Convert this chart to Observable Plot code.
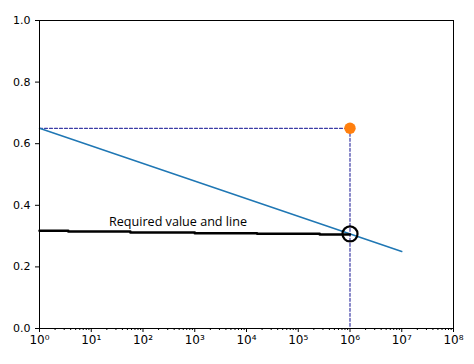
<!DOCTYPE html>
<html>
<head>
<meta charset="utf-8">
<script src="https://cdn.jsdelivr.net/npm/d3@7"></script>
<script src="https://cdn.jsdelivr.net/npm/@observablehq/plot@0.6"></script>
<style>
  html, body { margin: 0; padding: 0; background: #fff; }
  #chart svg { display: block; }
</style>
</head>
<body>
<div id="chart"></div>
<script>
// Blue fitted line
const lineX = [1, 1e7];
const lineY = [0.65, 0.25];
// Orange point
const pointX = [1e6];
const pointY = [0.65];
// Hand-drawn "required value" line (black)
const reqX = [1, 3.6, 57, 1000, 16000, 260000, 1e6];
const reqY = [0.317, 0.315, 0.312, 0.309, 0.308, 0.305, 0.305];
// Circle marker
const circX = [1e6];
const circY = [0.307];
// Annotation
const noteText = ["Required value and line"];
const noteX = [22];
const noteY = [0.345];
// Axis ticks
const xTicks = [1, 10, 100, 1e3, 1e4, 1e5, 1e6, 1e7, 1e8];
const xTickLabels = ["10⁰", "10¹", "10²", "10³", "10⁴", "10⁵", "10⁶", "10⁷", "10⁸"];
const yTicks = [0, 0.2, 0.4, 0.6, 0.8, 1.0];
const yTickLabels = ["0.0", "0.2", "0.4", "0.6", "0.8", "1.0"];

const minorTicks = [];
for (let k = 0; k < 8; k++) for (let m = 2; m <= 9; m++) minorTicks.push(m * Math.pow(10, k));

const line = lineX.map((x, i) => ({x, y: lineY[i]}));
const pts = pointX.map((x, i) => ({x, y: pointY[i]}));
const req = reqX.map((x, i) => ({x, y: reqY[i]}));
const circ = circX.map((x, i) => ({x, y: circY[i]}));
const note = noteText.map((t, i) => ({t, x: noteX[i], y: noteY[i]}));
const hDash = [{x: 1, y: pointY[0]}, {x: pointX[0], y: pointY[0]}];
const vDash = [{x: pointX[0], y: pointY[0]}, {x: pointX[0], y: 0}];

const dashColor = "#3b3ba6";

const chart = Plot.plot({
  width: 474,
  height: 364,
  marginLeft: 39,
  marginRight: 21,
  marginTop: 20,
  marginBottom: 36,
  style: {fontFamily: "DejaVu Sans", fontSize: "11px", color: "#000", background: "#fff"},
  x: {type: "log", domain: [1, 1e8]},
  y: {domain: [0, 1]},
  marks: [
    Plot.axisX({ticks: minorTicks, tickSize: 2, text: null, label: null, stroke: "#000"}),
    Plot.axisX({ticks: xTicks, tickSize: 4, tickPadding: 3,
      tickFormat: d => xTickLabels[xTicks.indexOf(d)], fontSize: 12, label: null, stroke: "#000"}),
    Plot.axisY({ticks: yTicks, tickSize: 4, tickPadding: 5,
      tickFormat: d => yTickLabels[yTicks.findIndex(v => Math.abs(v - d) < 1e-9)], label: null, stroke: "#000"}),
    Plot.line(hDash, {x: "x", y: "y", stroke: dashColor, strokeWidth: 1.2, strokeDasharray: "3,2"}),
    Plot.line(vDash, {x: "x", y: "y", stroke: dashColor, strokeWidth: 1.2, strokeDasharray: "3,2"}),
    Plot.line(line, {x: "x", y: "y", stroke: "#1f77b4", strokeWidth: 1.5}),
    Plot.line(req, {x: "x", y: "y", curve: "step-after", stroke: "#000", strokeWidth: 2.5}),
    Plot.dot(circ, {x: "x", y: "y", r: 7.5, stroke: "#000", strokeWidth: 2.2, fill: "none"}),
    Plot.dot(pts, {x: "x", y: "y", r: 5.7, fill: "#ff7f0e", stroke: "none"}),
    Plot.text(note, {x: "x", y: "y", text: "t", textAnchor: "start", fontFamily: "Open Sans", fontSize: 12.6, fill: "#000"}),
    Plot.frame({stroke: "#000", strokeWidth: 1})
  ]
});
document.getElementById("chart").appendChild(chart);
</script>
</body>
</html>
